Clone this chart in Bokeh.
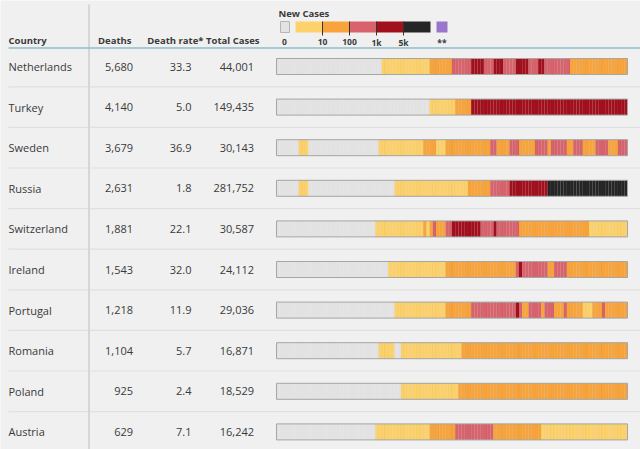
from bokeh.plotting import figure
from bokeh.models import Range1d, ColumnDataSource
from bokeh.core.properties import value
from bokeh.embed import file_html
from bokeh.resources import INLINE

# ---- table data -------------------------------------------------------
countries = ["Netherlands", "Turkey", "Sweden", "Russia", "Switzerland",
             "Ireland", "Portugal", "Romania", "Poland", "Austria"]
deaths = [5680, 4140, 3679, 2631, 1881, 1543, 1218, 1104, 925, 629]
death_rate = [33.3, 5.0, 36.9, 1.8, 22.1, 32.0, 11.9, 5.7, 2.4, 7.1]
total_cases = [44001, 149435, 30143, 281752, 30587, 24112, 29036, 16871, 18529, 16242]

# daily new-case band, as (band, number of days) runs
# band: 0 = none, 1 = 1-9, 2 = 10-99, 3 = 100-999, 4 = 1k-5k, 5 = 5k+
netherlands_runs = [(0, 33), (1, 15), (2, 7), (3, 6), (4, 4), (3, 3), (4, 3), (3, 4),
                    (4, 4), (3, 3), (4, 2), (3, 8), (2, 18)]
turkey_runs = [(0, 48), (1, 8), (2, 5), (4, 49)]
sweden_runs = [(0, 7), (1, 3), (0, 22), (1, 14), (2, 4), (1, 3), (2, 14), (3, 2), (2, 4),
               (3, 3), (2, 5), (3, 4), (2, 1), (3, 5), (2, 2), (3, 3), (2, 4), (3, 4),
               (2, 3), (3, 3)]
russia_runs = [(0, 7), (1, 3), (0, 27), (1, 23), (2, 7), (3, 6), (4, 12), (5, 25)]
switzerland_runs = [(0, 31), (1, 15), (2, 1), (1, 1), (2, 1), (3, 1), (2, 3), (3, 2),
                    (4, 9), (3, 4), (4, 1), (3, 7), (2, 22), (1, 12)]
ireland_runs = [(0, 35), (1, 18), (2, 22), (3, 1), (4, 1), (3, 8), (2, 2), (3, 4), (2, 19)]
portugal_runs = [(0, 37), (1, 16), (2, 8), (3, 14), (4, 1), (3, 1), (2, 2), (3, 4), (2, 1),
                 (3, 3), (2, 3), (3, 1), (2, 5), (1, 3), (2, 3), (3, 1), (2, 7)]
romania_runs = [(0, 32), (1, 5), (0, 2), (1, 19), (2, 52)]
poland_runs = [(0, 39), (1, 18), (2, 53)]
austria_runs = [(0, 31), (1, 17), (2, 8), (3, 12), (2, 15), (1, 27)]

all_runs = [netherlands_runs, turkey_runs, sweden_runs, russia_runs, switzerland_runs,
            ireland_runs, portugal_runs, romania_runs, poland_runs, austria_runs]

legend_labels = ["0", "10", "100", "1k", "5k", "**"]
band_colors = ["#e2e2e2", "#fdd26a", "#f9a43a", "#d8636c", "#a2101e", "#262626"]
no_data_color = "#9b74cc"

# ---- layout -----------------------------------------------------------
W, H = 640, 449
BG = "#f0f0f0"
TXT = "#3a3a3a"
FONT = "Open Sans"
N_DAYS = sum(n for _, n in netherlands_runs)
STRIP_X0, STRIP_X1 = 276, 627
DAY_W = (STRIP_X1 - STRIP_X0) / N_DAYS
ROW0, ROW_STEP, STRIP_H = 66.0, 40.6, 16

p = figure(width=W, height=H, x_range=Range1d(0, W), y_range=Range1d(H, 0),
           output_backend="svg", toolbar_location=None, min_border=0,
           x_axis_type=None, y_axis_type=None)
p.grid.visible = False
p.outline_line_color = None
p.background_fill_color = BG
p.border_fill_color = BG

# day scale for the strips, aligned so day 0 sits at the strip's left edge
p.extra_x_ranges = {"day": Range1d(-STRIP_X0 / DAY_W, (W - STRIP_X0) / DAY_W)}

row_y = [ROW0 + i * ROW_STEP for i in range(len(countries))]

# row separators
sep_y = [y + ROW_STEP / 2 for y in row_y[:-1]]
p.segment(x0=[8] * len(sep_y), x1=[W] * len(sep_y), y0=sep_y, y1=sep_y,
          line_color="#e0e0e0", line_width=1.2)

# column divider and header rule
p.segment(x0=[88.5], x1=[88.5], y0=[4], y1=[H], line_color="#d6d6d6", line_width=2)
p.segment(x0=[8], x1=[W], y0=[47.5], y1=[47.5], line_color="#8fbccb", line_width=1.3)

# daily cells
cx, cy, cc, ca = [], [], [], []
for y, runs in zip(row_y, all_runs):
    d = 0
    for band, n in runs:
        for _ in range(n):
            cx.append(d + 0.5)
            cy.append(y)
            cc.append(band_colors[band])
            ca.append(0.0 if band == 0 else 0.06)
            d += 1
cells = ColumnDataSource(dict(x=cx, y=cy, color=cc, la=ca))
p.rect(x="x", y="y", width=1, height=STRIP_H, source=cells, x_range_name="day",
       fill_color="color", line_color="#000000", line_alpha="la", line_width=0.6)

# strip outlines
p.rect(x=[N_DAYS / 2] * len(row_y), y=row_y, width=N_DAYS, height=STRIP_H,
       x_range_name="day", fill_color=None, line_color="#a6a6a6", line_width=1)

# header
hdr = dict(text_font=value(FONT), text_font_style="bold", text_font_size="9.5px",
           text_color=TXT, text_baseline="middle")
p.text(x=[8], y=[40], text=["Country"], text_align="left", **hdr)
p.text(x=[131], y=[40], text=["Deaths"], text_align="right", **hdr)
p.text(x=[203], y=[40], text=["Death rate*"], text_align="right", **hdr)
p.text(x=[259], y=[40], text=["Total Cases"], text_align="right", **hdr)
p.text(x=[278], y=[12.5], text=["New Cases"], text_align="left", **hdr)

# colour key
KEY_X0, KEY_W, KEY_T, KEY_B = 295, 27, 21, 32
p.quad(left=[280], right=[289], top=[KEY_T], bottom=[KEY_B],
       fill_color=band_colors[0], line_color="#b5b5b5", line_width=1)
key_bands = band_colors[1:]
p.quad(left=[KEY_X0 + i * KEY_W for i in range(len(key_bands))],
       right=[KEY_X0 + (i + 1) * KEY_W for i in range(len(key_bands))],
       top=[KEY_T] * len(key_bands), bottom=[KEY_B] * len(key_bands),
       fill_color=key_bands, line_color=None)
tick_x = [KEY_X0 + i * KEY_W for i in range(1, len(key_bands))]
p.segment(x0=tick_x, x1=tick_x, y0=[KEY_T] * len(tick_x), y1=[35] * len(tick_x),
          line_color="#333333", line_width=1)
p.quad(left=[436], right=[447], top=[KEY_T], bottom=[KEY_B],
       fill_color=no_data_color, line_color=None)
label_x = [284] + tick_x + [441.5]
p.text(x=label_x, y=[41.5] * len(label_x), text=legend_labels, text_align="center",
       text_baseline="middle", text_font=value(FONT), text_font_style="bold",
       text_font_size="8.5px", text_color=TXT)

# rows
body = dict(text_font=value(FONT), text_font_size="11px", text_color=TXT,
            text_baseline="middle")
p.text(x=[8] * len(row_y), y=row_y, text=countries, text_align="left", **body)
p.text(x=[132.5] * len(row_y), y=row_y, text=[f"{v:,}" for v in deaths],
       text_align="right", **body)
p.text(x=[191] * len(row_y), y=row_y, text=[f"{v:.1f}" for v in death_rate],
       text_align="right", **body)
p.text(x=[253.5] * len(row_y), y=row_y, text=[f"{v:,}" for v in total_cases],
       text_align="right", **body)

open("out.html", "w").write(file_html(p, INLINE))
